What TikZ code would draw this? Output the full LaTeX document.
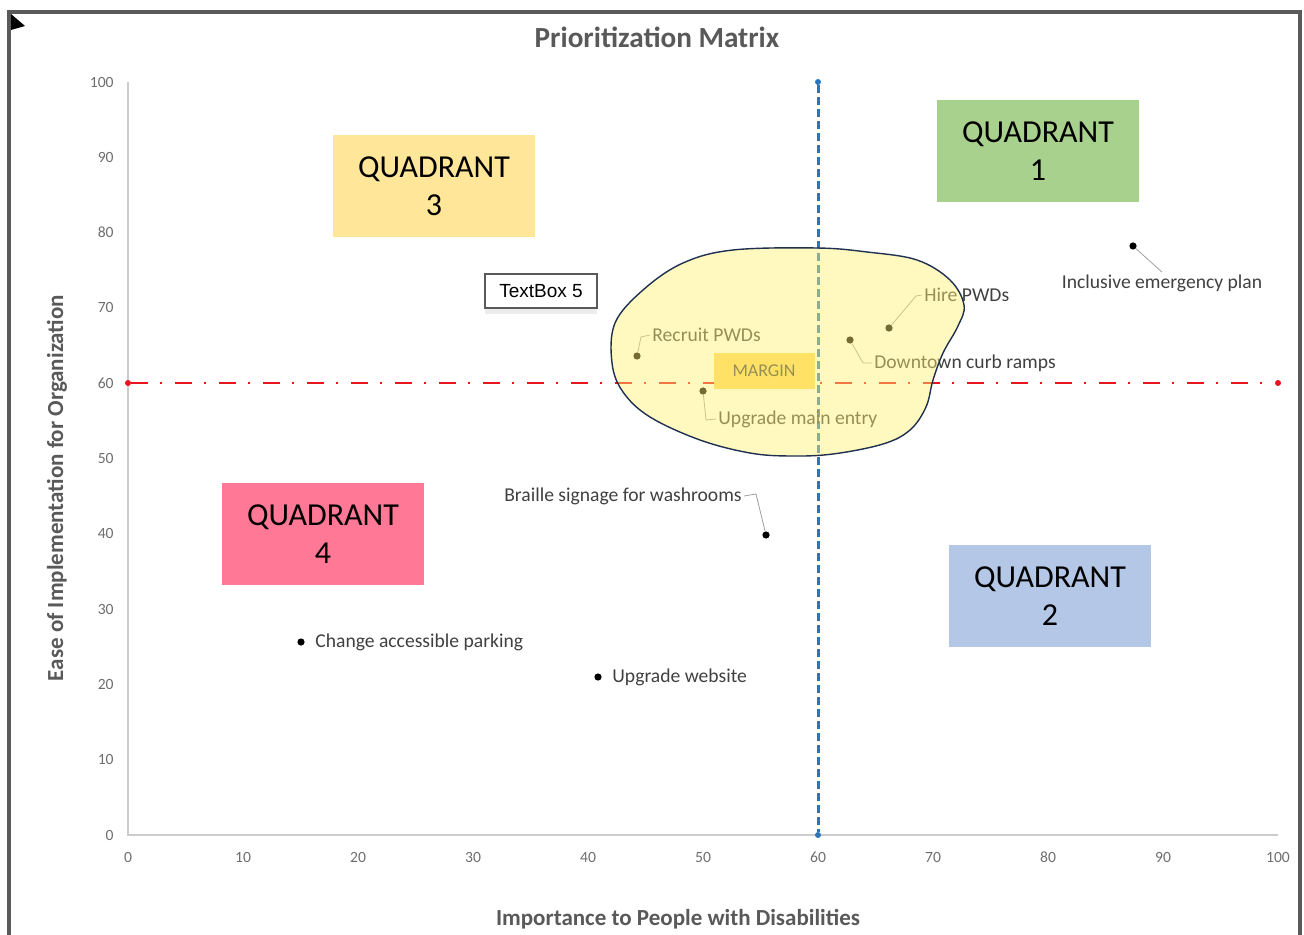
\documentclass[tikz,border=0pt]{standalone}
\usepackage{fontspec}
\setmainfont{Carlito}
\newfontfamily\boxfont{Liberation Sans}
\usetikzlibrary{positioning,shadows}
\definecolor{framegray}{HTML}{5A5A5A}
\definecolor{tickgray}{HTML}{6E6E6E}
\definecolor{labelgray}{HTML}{404040}
\definecolor{titlegray}{HTML}{595959}
\definecolor{qgreen}{HTML}{A9D18E}
\definecolor{qblue}{HTML}{B4C7E7}
\definecolor{qyellow}{HTML}{FFE699}
\definecolor{qpink}{HTML}{FF7896}
\definecolor{marginfill}{HTML}{FFD75E}
\definecolor{vline}{HTML}{2E75B6}
\definecolor{hline}{HTML}{E8141E}
\definecolor{blobfill}{HTML}{FFEF70}
\definecolor{blobline}{HTML}{1F3050}

\begin{document}
\begin{tikzpicture}[x=0.5pt,y=-0.5pt,
    quad/.style={minimum width=101pt,minimum height=51pt,inner sep=0pt,align=center,font=\fontsize{16}{19}\selectfont},
    dot/.style={circle,fill=black,inner sep=0pt,minimum size=3.6pt},
    item/.style={text=labelgray,inner sep=1pt,font=\fontsize{9.8}{11}\selectfont},
    lead/.style={draw=gray!75,line width=0.4pt},
    tick/.style={text=tickgray,inner sep=0pt,font=\fontsize{7.8}{9}\selectfont},
    axtitle/.style={text=titlegray,font=\bfseries\fontsize{11.5}{13}\selectfont}]
    \useasboundingbox (0,0) rectangle (1304,935);

    % frame and corner pointer
    \draw[framegray,line width=2pt] (9,960) -- (9,12) -- (1300,12) -- (1300,960);
    \fill[black] (11,14) -- (11,30) -- (25,26) -- cycle;

    % titles
    \node[text=titlegray,font=\bfseries\fontsize{14.6}{16}\selectfont] (title) at (657,37) {Prioritization Matrix};
    \node[axtitle] (xtitle) at (678,919) {Importance to People with Disabilities};
    \node[axtitle,rotate=90] (ytitle) at (57,488) {Ease of Implementation for Organization};

    % axes and ticks
    \draw[gray!40,line width=0.6pt] (128,82) -- (128,835) -- (1278,835);
    \foreach \v in {0,10,...,100} {
        \node[tick,anchor=east] at (114,{835-7.53*\v}) {\v};
        \node[tick] at ({128+11.5*\v},857) {\v};
    }

    % quadrant boxes
    \node[quad,fill=qgreen] (q1) at (1038,151) {QUADRANT\\1};
    \node[quad,fill=qblue] (q2) at (1050,596) {QUADRANT\\2};
    \node[quad,fill=qyellow] (q3) at (434,186) {QUADRANT\\3};
    \node[quad,fill=qpink] (q4) at (323,534) {QUADRANT\\4};

    % threshold lines
    \node[circle,fill=vline,inner sep=0pt,minimum size=3pt] (vtop) at (818,82) {};
    \node[circle,fill=vline,inner sep=0pt,minimum size=3pt] (vbot) at (818,835) {};
    \draw[vline,line width=1.5pt,dash pattern=on 4pt off 2pt] (vtop) -- (vbot);
    \node[circle,fill=hline,inner sep=0pt,minimum size=3pt] (hleft) at (128,383) {};
    \node[circle,fill=hline,inner sep=0pt,minimum size=3pt] (hright) at (1278,383) {};
    \draw[hline,line width=1.4pt,dash pattern=on 8.5pt off 6pt on 1pt off 6.5pt] (hleft) -- (hright);

    \node[fill=marginfill,minimum width=50.5pt,minimum height=18pt,inner sep=0pt,text=labelgray,font=\fontsize{9}{10}\selectfont] (margin) at (764,371) {MARGIN};

    % data points
    \node[dot] (d1) at (1133,246) {};
    \node[dot] (d2) at (889,328) {};
    \node[dot] (d3) at (850,340) {};
    \node[dot] (d4) at (637,356) {};
    \node[dot] (d5) at (703,391) {};
    \node[dot] (d6) at (766,535) {};
    \node[dot] (d7) at (301,642) {};
    \node[dot] (d8) at (598,677) {};

    \node[item] (l1) at (1162,283) {Inclusive emergency plan};
    \node[item,anchor=west] (l2) at (922,295) {Hire PWDs};
    \node[item,anchor=west] (l3) at (872,363) {Downtown curb ramps};
    \node[item,anchor=west] (l4) at (650,335) {Recruit PWDs};
    \node[item,anchor=west] (l5) at (716,419) {Upgrade main entry};
    \node[item,anchor=east] (l6) at (744,496) {Braille signage for washrooms};
    \node[item,anchor=west] (l7) at (313,642) {Change accessible parking};
    \node[item,anchor=west] (l8) at (610,677) {Upgrade website};

    \draw[lead] (d1) -- (l1.north);
    \coordinate (c2) at (916,296);
    \draw[lead] (d2) -- (c2) -- (l2.west);
    \coordinate (c3) at (863,363);
    \draw[lead] (d3) -- (c3) -- (l3.west);
    \coordinate (c4) at (641,337);
    \draw[lead] (d4) -- (c4) -- (l4.west);
    \coordinate (c5) at (706,420);
    \draw[lead] (d5) -- (c5) -- (l5.west);
    \coordinate (c6) at (756,494);
    \draw[lead] (l6.east) -- (c6) -- (d6);

    % text box
    \node[draw=gray!70!black,fill=white,line width=0.6pt,minimum width=56pt,minimum height=17pt,inner sep=0pt,
        drop shadow={opacity=0.15,shadow xshift=0pt,shadow yshift=-3pt},font=\boxfont\fontsize{9.5}{11}\selectfont] (tb5) at (541,291) {TextBox 5};

    % margin blob
    \filldraw[fill=blobfill,fill opacity=0.45,draw=blobline,line width=0.7pt]
        plot[smooth cycle,tension=0.6] coordinates {(615,323) (643,290) (683,263) (733,250) (817,248) (867,252)
        (917,260) (950,280) (964,305) (958,326) (943,353) (933,380) (926,407) (910,430) (883,444) (833,454)
        (790,456) (750,453) (700,440) (650,417) (623,392) (612,363)};
\end{tikzpicture}
\end{document}
